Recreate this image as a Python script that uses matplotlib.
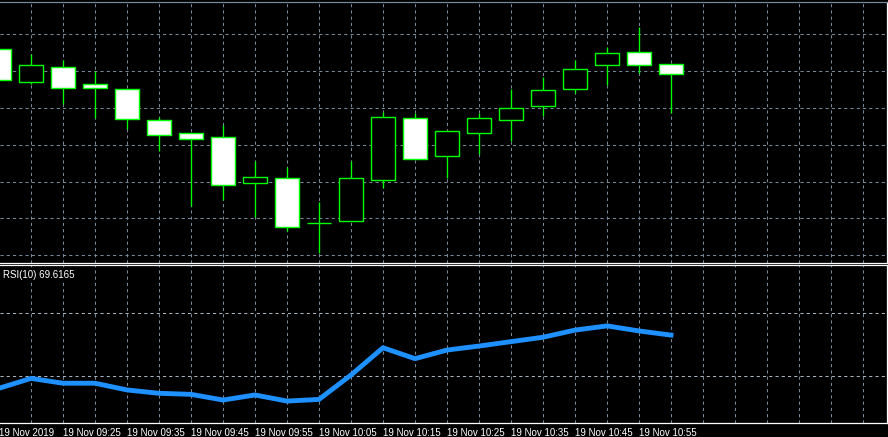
import numpy as np
import matplotlib.pyplot as plt

# 5 minute bars, 19 Nov 2019 09:15 .. 11:00
opens  = [1.10851, 1.10818, 1.10833, 1.10816, 1.10811, 1.10780, 1.10767, 1.10763,
          1.10717, 1.10722, 1.10677, 1.10679, 1.10720, 1.10782, 1.10744, 1.10767,
          1.10780, 1.10794, 1.10811, 1.10835, 1.10848, 1.10836]
highs  = [1.10853, 1.10846, 1.10840, 1.10829, 1.10811, 1.10783, 1.10767, 1.10775,
          1.10739, 1.10733, 1.10698, 1.10739, 1.10788, 1.10787, 1.10769, 1.10787,
          1.10811, 1.10823, 1.10840, 1.10853, 1.10873, 1.10836]
lows   = [1.10818, 1.10816, 1.10796, 1.10782, 1.10771, 1.10749, 1.10694, 1.10700,
          1.10683, 1.10669, 1.10647, 1.10679, 1.10712, 1.10741, 1.10722, 1.10746,
          1.10759, 1.10784, 1.10807, 1.10815, 1.10827, 1.10787]
closes = [1.10820, 1.10835, 1.10812, 1.10812, 1.10781, 1.10765, 1.10761, 1.10715,
          1.10723, 1.10673, 1.10677, 1.10722, 1.10783, 1.10741, 1.10769, 1.10782,
          1.10792, 1.10810, 1.10831, 1.10847, 1.10835, 1.10826]

rsi = [44.3, 49.0, 46.7, 46.7, 43.5, 41.9, 41.4, 38.7, 41.1, 38.2, 39.0,
       50.6, 63.6, 58.4, 62.5, 64.4, 66.5, 68.6, 72.0, 74.0, 71.6, 69.6165]

time_labels = ['19 Nov 2019', '19 Nov 09:25', '19 Nov 09:35', '19 Nov 09:45',
               '19 Nov 09:55', '19 Nov 10:05', '19 Nov 10:15', '19 Nov 10:25',
               '19 Nov 10:35', '19 Nov 10:45', '19 Nov 10:55']
label_bars = [0, 2, 4, 6, 8, 10, 12, 14, 16, 18, 20]

price_grid = [1.10866, 1.10829, 1.10792, 1.10755, 1.10718, 1.10682, 1.10645]
rsi_grid = [50, 80]

GREEN = '#00ff00'
GRID = '#778899'
W, H = 888, 437

def box(x0, y0, x1, y1):
    # pixel box -> figure fraction rect
    return [x0 / W, 1 - y1 / H, (x1 - x0) / W, (y1 - y0) / H]

plt.rcParams['font.family'] = ['Liberation Sans', 'DejaVu Sans']

fig = plt.figure(figsize=(W / 100, H / 100), dpi=100, facecolor='black')
ax = fig.add_axes(box(0, 2.3, 886.7, 263.3))
ax2 = fig.add_axes(box(0, 265.3, 886.7, 422.7))

n = len(opens)
x = np.arange(n)
xlim = (1 / 32, 887.7 / 32)

for a in (ax, ax2):
    a.set_facecolor('black')
    a.set_xlim(*xlim)
    a.set_xticks(np.arange(1, 28))
    a.tick_params(which='major', length=0, labelbottom=False, labelleft=False)
    a.grid(axis='x', color=GRID, lw=0.75, dashes=(3, 3))
    a.spines['left'].set_visible(False)
    for s in ('right', 'bottom', 'top'):
        a.spines[s].set_color('white')
        a.spines[s].set_linewidth(0.9)
    a.set_axisbelow(True)
ax.spines['top'].set_color(GRID)

# candles
ax.set_ylim(1.106367, 1.108977)
ax.set_yticks(price_grid)
ax.grid(axis='y', color=GRID, lw=0.75, dashes=(3, 3))
ax.vlines(x, lows, highs, color=GREEN, lw=0.95, zorder=2)
o = np.array(opens)
c = np.array(closes)
fills = ['white' if cc < oo else 'black' for oo, cc in zip(o, c)]
ax.bar(x, np.abs(c - o), bottom=np.minimum(o, c), width=0.72,
       color=fills, edgecolor=GREEN, linewidth=1.0, zorder=3)

# RSI
ax2.set_ylim(27.9, 102.86)
ax2.set_yticks(rsi_grid)
ax2.grid(axis='y', color='#aab4be', lw=0.75, dashes=(3, 3))
ax2.plot(x, rsi, color='#1e90ff', lw=3.5, solid_capstyle='projecting', zorder=3)
ax2.text(3 / 887.7, 0.94, 'RSI(10) 69.6165', transform=ax2.transAxes,
         color='white', fontsize=7, va='center', ha='left', zorder=5,
         bbox=dict(facecolor='black', edgecolor='none', pad=0.5))

ax2.set_xticks(label_bars[1:], minor=True)
ax2.tick_params(which='minor', length=3.5, width=0.8, color='white', direction='out')
for b, t in zip(label_bars, time_labels):
    ax2.text(b, -0.085, t, transform=ax2.get_xaxis_transform(), color='white',
             fontsize=7, ha='left', va='baseline')

fig.savefig('out.png', dpi=100, facecolor='black')
